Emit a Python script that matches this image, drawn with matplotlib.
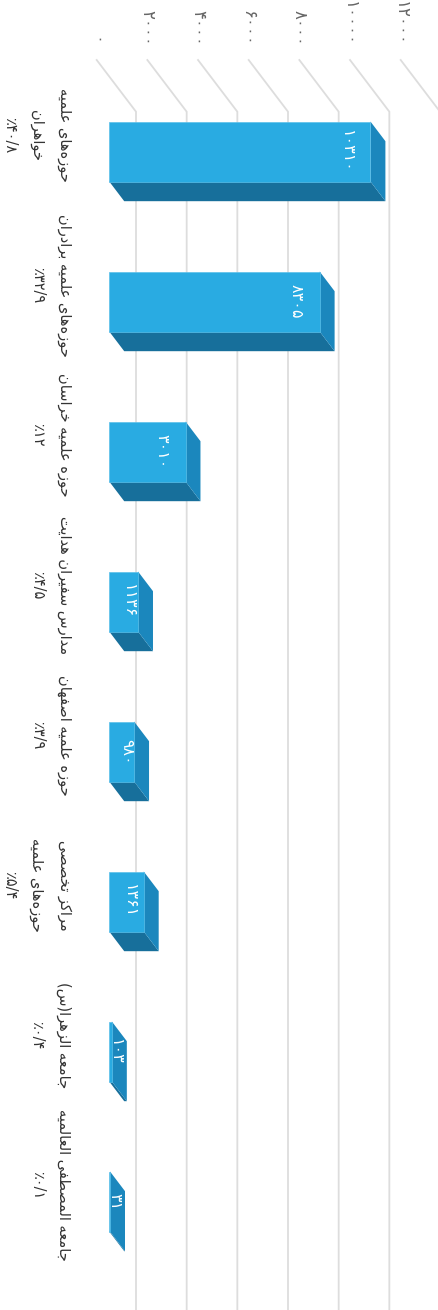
import matplotlib
matplotlib.use("Agg")
import matplotlib.pyplot as plt
from matplotlib.patches import Polygon, Rectangle

# ---------------- data ----------------
categories = [
    "حوزه‌های علمیه\nخواهران",
    "حوزه‌های علمیه برادران",
    "حوزه علمیه خراسان",
    "مدارس سفیران هدایت",
    "حوزه علمیه اصفهان",
    "مراکز تخصصی\nحوزه‌های علمیه",
    "جامعه الزهرا(س)",
    "جامعه المصطفی العالمیه",
]
values = [10310, 8305, 3010, 1136, 980, 1361, 103, 31]
percent_labels = ["٪۴۰/۸", "٪۳۲/۹", "٪۱۲", "٪۴/۵", "٪۳/۹", "٪۵/۴", "٪۰/۴", "٪۰/۱"]
value_ticks = [0, 2000, 4000, 6000, 8000, 10000, 12000]

# ---------------- simple Persian shaping ----------------
FORMS = {
    'ا': ('\uFE8D', '\uFE8E', None, None),
    'ب': ('\uFE8F', '\uFE90', '\uFE91', '\uFE92'),
    'ت': ('\uFE95', '\uFE96', '\uFE97', '\uFE98'),
    'ج': ('\uFE9D', '\uFE9E', '\uFE9F', '\uFEA0'),
    'ح': ('\uFEA1', '\uFEA2', '\uFEA3', '\uFEA4'),
    'خ': ('\uFEA5', '\uFEA6', '\uFEA7', '\uFEA8'),
    'د': ('\uFEA9', '\uFEAA', None, None),
    'ر': ('\uFEAD', '\uFEAE', None, None),
    'ز': ('\uFEAF', '\uFEB0', None, None),
    'س': ('\uFEB1', '\uFEB2', '\uFEB3', '\uFEB4'),
    'ص': ('\uFEB9', '\uFEBA', '\uFEBB', '\uFEBC'),
    'ط': ('\uFEC1', '\uFEC2', '\uFEC3', '\uFEC4'),
    'ع': ('\uFEC9', '\uFECA', '\uFECB', '\uFECC'),
    'ف': ('\uFED1', '\uFED2', '\uFED3', '\uFED4'),
    'ل': ('\uFEDD', '\uFEDE', '\uFEDF', '\uFEE0'),
    'م': ('\uFEE1', '\uFEE2', '\uFEE3', '\uFEE4'),
    'ن': ('\uFEE5', '\uFEE6', '\uFEE7', '\uFEE8'),
    'ه': ('\uFEE9', '\uFEEA', '\uFEEB', '\uFEEC'),
    'و': ('\uFEED', '\uFEEE', None, None),
    'ی': ('\uFBFC', '\uFBFD', '\uFBFE', '\uFBFF'),
    'ک': ('\uFB8E', '\uFB8F', '\uFB90', '\uFB91'),
}


def shape(text):
    lines = []
    for line in text.split("\n"):
        ch = list(line)
        res = []
        for i, c in enumerate(ch):
            if c not in FORMS:
                if c != '\u200c':
                    res.append(c)
                continue
            prev = ch[i - 1] if i > 0 else None
            nxt = ch[i + 1] if i + 1 < len(ch) else None
            jp = prev in FORMS and FORMS[prev][2] is not None
            jn = FORMS[c][2] is not None and nxt in FORMS
            iso, fin, ini, med = FORMS[c]
            g = med if (jp and jn) else fin if jp else ini if jn else iso
            res.append(g)
        vis = "".join(reversed(res)).translate(str.maketrans("()", ")("))
        lines.append(vis)
    return "\n".join(lines)


FA_DIGITS = str.maketrans("0123456789", "۰۱۲۳۴۵۶۷۸۹")


def fa(n):
    return str(n).translate(FA_DIGITS)


# ---------------- geometry / style ----------------
W_PX, H_PX = 438, 1310
PX_PER_UNIT = 50.667 / 2000.0      # value scale
BAND_PX = 150.0                    # category band
AX_LEFT_PX, AX_TOP_PX = 96.7, 60.0
DX = 39.3 / PX_PER_UNIT            # full depth in value units
DY = 51.7 / BAND_PX                # full depth in category units
F1, F2 = 0.32, 0.70                # bar depth span
BW = 0.40                          # bar width (categories)

C_FRONT = "#29ABE2"
C_SIDE = "#1B87BD"
C_BOTTOM = "#176F9B"
C_GRID = "#DDDDDD"

plt.rcParams['font.family'] = ['DejaVu Sans']

fig = plt.figure(figsize=(W_PX / 100, H_PX / 100), dpi=100)
fig.patch.set_facecolor("white")
ax = fig.add_axes([AX_LEFT_PX / W_PX, 0, 1 - AX_LEFT_PX / W_PX, (H_PX - AX_TOP_PX) / H_PX])
ax.set_facecolor("none")
xmax = (W_PX - AX_LEFT_PX) / PX_PER_UNIT
ymax = -0.5 + (H_PX - AX_TOP_PX) / BAND_PX
ax.set_xlim(0, xmax)
ax.set_ylim(ymax, -0.5)
for s in ax.spines.values():
    s.set_visible(False)

# gridlines: diagonal on side wall then vertical on back wall
for v in value_ticks:
    ax.plot([v, v + DX, v + DX], [-0.5, -0.5 + DY, ymax + 1], color=C_GRID,
            lw=1.3, clip_on=False, zorder=0, solid_joinstyle="miter")

# bars
ddx = (F2 - F1) * DX
ddy = (F2 - F1) * DY
for i, v in enumerate(values):
    yc = i + F1 * DY
    x0 = F1 * DX
    x1 = x0 + v
    y0, y1 = yc - BW / 2, yc + BW / 2
    ax.add_patch(Polygon([(x0, y1), (x1, y1), (x1 + ddx, y1 + ddy), (x0 + ddx, y1 + ddy)],
                         closed=True, facecolor=C_BOTTOM, edgecolor="none", zorder=2))
    ax.add_patch(Polygon([(x1, y0), (x1 + ddx, y0 + ddy), (x1 + ddx, y1 + ddy), (x1, y1)],
                         closed=True, facecolor=C_SIDE, edgecolor="none", zorder=2))
    ax.add_patch(Rectangle((x0, y0), v, BW, facecolor=C_FRONT, edgecolor="#5CC0EA",
                           lw=0.5, zorder=3))
    vpx = v * PX_PER_UNIT
    unit = 1 / PX_PER_UNIT
    cx = max(x1 - 24 * unit, x0 + (5 + 0.5 * min(vpx, 30)) * unit)
    ax.text(cx, yc, fa(v), rotation=-90, ha="center", va="center", color="white",
            fontsize=11.5, zorder=5)

# value ticks on top
ax.xaxis.tick_top()
ax.set_xticks(value_ticks, labels=[fa(v) for v in value_ticks])
ax.tick_params(axis="x", length=0, pad=10, labelsize=12, labelcolor="#666666",
               labelrotation=-90)

# category labels
ax.set_yticks(range(len(categories)),
              labels=[shape(c) + "\n" + p for c, p in zip(categories, percent_labels)])
ax.tick_params(axis="y", length=0, pad=18, labelsize=10.5, labelcolor="#333333",
               labelrotation=-90)
for t in ax.get_yticklabels():
    t.set_va("center")
    t.set_ha("right")
    t.set_multialignment("center")
    t.set_linespacing(2.0)

fig.savefig("out.png", dpi=100)
